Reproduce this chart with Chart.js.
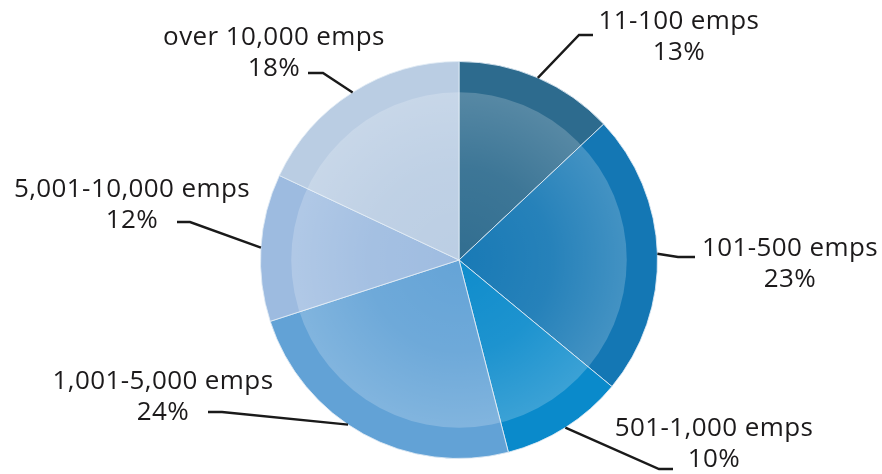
<!DOCTYPE html>
<html>
<head>
<meta charset="utf-8">
<script src="https://cdn.jsdelivr.net/npm/chart.js@4/dist/chart.umd.min.js"></script>
<style>
  html, body { margin: 0; padding: 0; background: #fff; }
  #wrap { width: 882px; height: 474px; position: relative; }
</style>
</head>
<body>
<div id="wrap"><canvas id="chart"></canvas></div>
<script>
const categories = ['11-100 emps', '101-500 emps', '501-1,000 emps', '1,001-5,000 emps', '5,001-10,000 emps', 'over 10,000 emps'];
const shares = [13, 23, 10, 24, 12, 18];
const sliceColors = ['#2d6b8e', '#1477b4', '#0a8acb', '#62a2d6', '#9dbbe0', '#bacde3'];

// label placement: text centre x, first line y, elbow point, end of the horizontal tick,
// and where along the slice the leader touches the rim (0.5 = middle)
const labelLayout = [
    { tx: 679, ty: 22, elbow: [579, 35], tick: [593, 35], at: 0.5 },
    { tx: 790, ty: 249, elbow: [678, 257], tick: [695, 257], at: 0.5 },
    { tx: 714, ty: 429, elbow: [659, 469], tick: [673, 469], at: 0.5 },
    { tx: 163, ty: 382, elbow: [222, 412], tick: [208, 412], at: 0.56 },
    { tx: 132, ty: 190, elbow: [190, 222], tick: [177, 222], at: 0.5 },
    { tx: 274, ty: 38, elbow: [323, 73], tick: [308, 73], at: 0.5 },
];

const innerGlow = {
    id: 'innerGlow',
    afterDatasetsDraw(chart) {
        const arc = chart.getDatasetMeta(0).data[0];
        if (!arc) return;
        const ctx = chart.ctx;
        const r = arc.outerRadius * 0.845;
        const g = ctx.createRadialGradient(arc.x, arc.y, 0, arc.x, arc.y, r);
        g.addColorStop(0, 'rgba(255,255,255,0.02)');
        g.addColorStop(0.55, 'rgba(255,255,255,0.08)');
        g.addColorStop(1, 'rgba(255,255,255,0.2)');
        ctx.save();
        ctx.beginPath();
        ctx.arc(arc.x, arc.y, r, 0, Math.PI * 2);
        ctx.fillStyle = g;
        ctx.fill();
        ctx.restore();
    }
};

const leaderLabels = {
    id: 'leaderLabels',
    afterDraw(chart) {
        const ctx = chart.ctx;
        const meta = chart.getDatasetMeta(0);
        ctx.save();
        meta.data.forEach((arc, i) => {
            const lay = labelLayout[i];
            const ang = arc.startAngle + (arc.endAngle - arc.startAngle) * lay.at;
            const ax = arc.x + Math.cos(ang) * arc.outerRadius;
            const ay = arc.y + Math.sin(ang) * arc.outerRadius;
            ctx.strokeStyle = '#1a1a1a';
            ctx.lineWidth = 2.4;
            ctx.beginPath();
            ctx.moveTo(ax, ay);
            ctx.lineTo(lay.elbow[0], lay.elbow[1]);
            ctx.lineTo(lay.tick[0], lay.tick[1]);
            ctx.stroke();

            ctx.fillStyle = '#1c1a1b';
            ctx.font = '26px "Open Sans"';
            ctx.letterSpacing = '0.4px';
            ctx.textAlign = 'center';
            ctx.textBaseline = 'middle';
            ctx.fillText(categories[i], lay.tx, lay.ty);
            ctx.fillText(shares[i] + '%', lay.tx, lay.ty + 31);
        });
        ctx.restore();
    }
};

new Chart(document.getElementById('chart'), {
    type: 'pie',
    data: {
        labels: categories,
        datasets: [{
            data: shares,
            backgroundColor: sliceColors,
            borderColor: 'rgba(225,235,245,0.85)',
            borderWidth: 1,
            hoverOffset: 0,
        }]
    },
    options: {
        responsive: true,
        maintainAspectRatio: false,
        animation: false,
        layout: { padding: { top: 61, bottom: 15, left: 36, right: 0 } },
        plugins: {
            legend: { display: false },
            tooltip: { enabled: false },
        }
    },
    plugins: [innerGlow, leaderLabels]
});
</script>
</body>
</html>
